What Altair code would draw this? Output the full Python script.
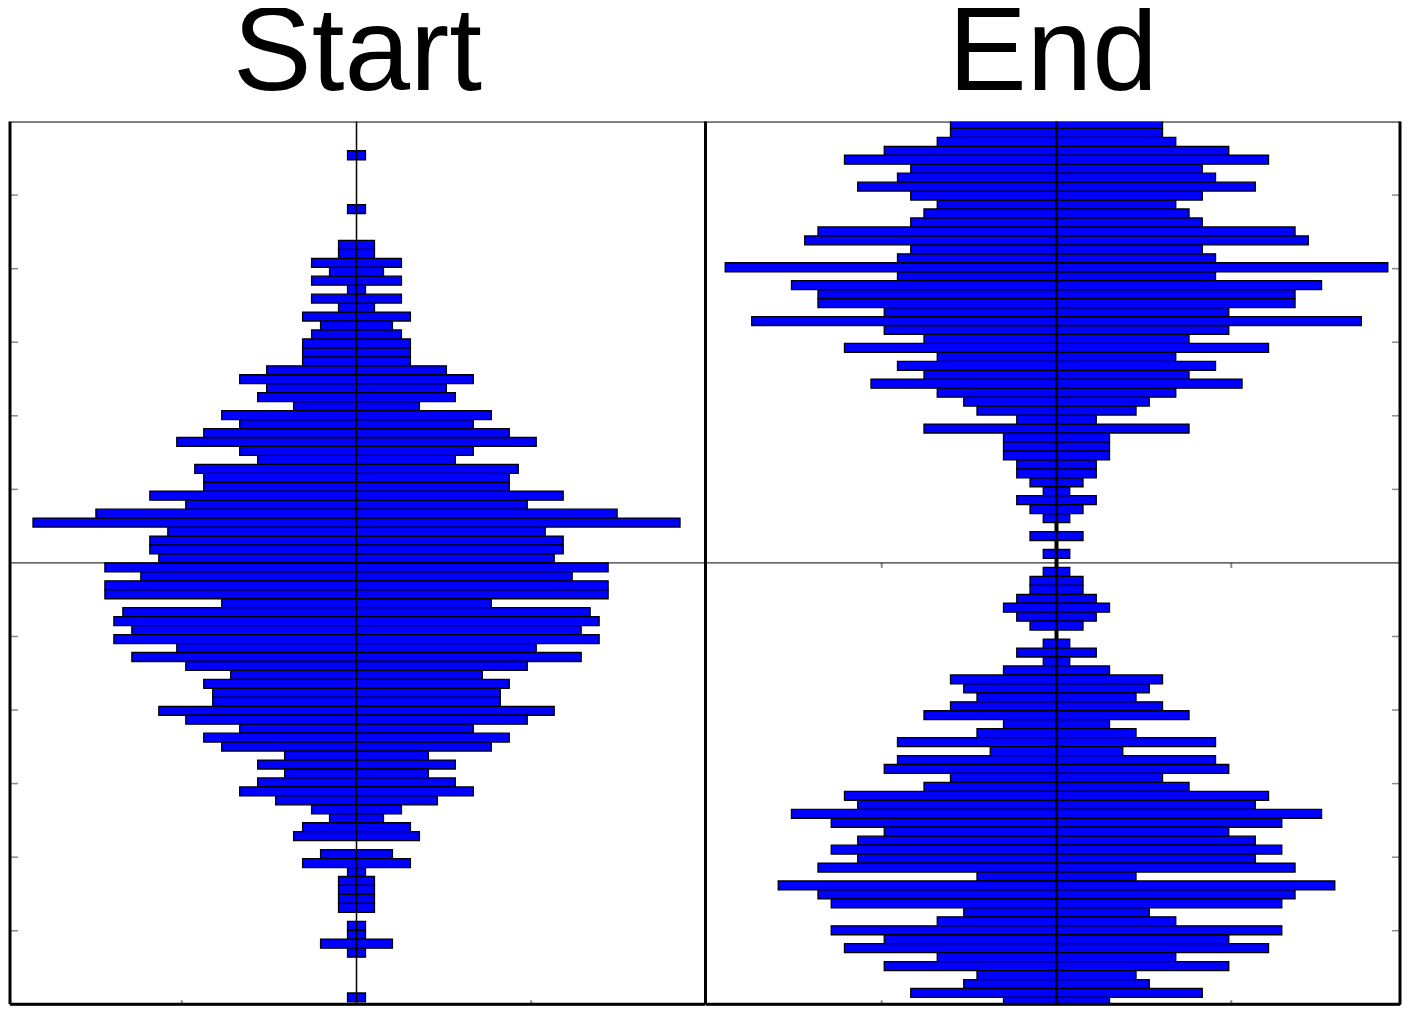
import altair as alt
import pandas as pd

# ---------------- data ----------------
BIN_H = 0.1218                      # bin height in y units
Y_TICKS = [-5, -4, -3, -2, -1, 1, 2, 3, 4, 5]

# Start panel: bins whose lower/upper edge sits on the centre line
start_up = [22, 23, 23, 21, 36, 29, 19, 23, 17, 17, 18, 11, 13, 20, 17, 13, 15, 7,
            11, 10, 13, 10, 6, 6, 6, 5, 4, 6, 2, 5, 1, 5, 3, 5, 2, 2, 0, 0, 0, 1,
            0, 0, 0, 0, 0, 1]
start_down = [28, 24, 28, 28, 15, 26, 27, 25, 27, 20, 25, 19, 14, 17, 16, 16, 22, 19,
              13, 17, 15, 8, 11, 8, 11, 13, 9, 5, 3, 6, 7, 0, 4, 6, 1, 2, 2, 2, 2,
              0, 1, 1, 4, 1, 0, 0, 0, 0, 1]

# End panel: bins centred on the centre line
end_centre = 0
end_up = [1, 0, 2, 0, 1, 2, 3, 1, 2, 3, 3, 4, 4, 4, 10, 3, 6, 7, 9, 14, 10, 12, 9,
          16, 10, 13, 23, 13, 18, 18, 20, 12, 25, 12, 11, 19, 18, 11, 10, 9, 11,
          15, 12, 11, 16, 13, 9, 8, 8]
end_down = [1, 2, 2, 3, 4, 3, 2, 0, 1, 3, 1, 4, 8, 7, 6, 8, 10, 4, 6, 12, 5, 12,
            13, 8, 10, 16, 15, 20, 17, 13, 15, 17, 15, 18, 6, 21, 18, 17, 7, 9, 17,
            13, 16, 9, 13, 6, 7, 11, 4]

START_XDOM = [-38.56, 38.78]
END_XDOM = [-26.45, 25.92]
START_XTICKS = [-19.44, 19.44]
END_XTICKS = [-13.19, 13.19]

W_S, W_E, H = 696, 695, 884

rows_s = []
for i, c in enumerate(start_up):
    rows_s.append({"y0": i * BIN_H, "y1": (i + 1) * BIN_H, "n": c})
for i, c in enumerate(start_down):
    rows_s.append({"y0": -(i + 1) * BIN_H, "y1": -i * BIN_H, "n": c})
rows_e = [{"y0": -0.5 * BIN_H, "y1": 0.5 * BIN_H, "n": end_centre}]
for k, c in enumerate(end_up, start=1):
    rows_e.append({"y0": (k - 0.5) * BIN_H, "y1": (k + 0.5) * BIN_H, "n": c})
for k, c in enumerate(end_down, start=1):
    rows_e.append({"y0": -(k + 0.5) * BIN_H, "y1": -(k - 0.5) * BIN_H, "n": c})

df_s = pd.DataFrame(rows_s)
df_e = pd.DataFrame(rows_e)
for d in (df_s, df_e):
    d["xl"] = -d["n"]
    d["xr"] = d["n"]

GRAY = "#8a8a8a"


def panel(title, df, W, xdom, xticks, tick_side, thick_zero, vline_w):
    xs = alt.Scale(domain=xdom, nice=False, zero=False)
    ys = alt.Scale(domain=[-6, 6], nice=False, zero=False)
    one = pd.DataFrame({"k": [0]})
    ytick_df = pd.DataFrame({"t": Y_TICKS})
    xtick_df = pd.DataFrame({"t": xticks})

    if tick_side == "left":
        yt = alt.Chart(ytick_df).mark_rule(color=GRAY, strokeWidth=1.5).encode(
            y=alt.Y("t:Q", scale=ys, axis=None), x=alt.value(0), x2=alt.value(8))
    else:
        yt = alt.Chart(ytick_df).mark_rule(color=GRAY, strokeWidth=1.5).encode(
            y=alt.Y("t:Q", scale=ys, axis=None), x=alt.value(W - 8), x2=alt.value(W))

    xt_bottom = alt.Chart(xtick_df).mark_rule(color=GRAY, strokeWidth=2).encode(
        x=alt.X("t:Q", scale=xs, axis=None), y=alt.value(H - 4), y2=alt.value(H))
    xt_mid = alt.Chart(xtick_df).mark_rule(color=GRAY, strokeWidth=2).encode(
        x=alt.X("t:Q", scale=xs, axis=None), y=alt.value(H / 2), y2=alt.value(H / 2 + 5))

    bars = alt.Chart(df[df["n"] > 0]).mark_rect(
        clip=True, color="#0000ff", stroke="black", strokeWidth=1.3
    ).encode(
        x=alt.X("xl:Q", scale=xs, axis=None), x2="xr:Q",
        y=alt.Y("y0:Q", scale=ys, axis=None), y2="y1:Q",
    )

    hline = alt.Chart(one).mark_rule(color="black", strokeWidth=1).encode(
        y=alt.YDatum(0, scale=ys, axis=None), x=alt.value(0), x2=alt.value(W))
    vline = alt.Chart(one).mark_rule(color="black", strokeWidth=vline_w).encode(
        x=alt.XDatum(0, scale=xs, axis=None), y=alt.value(0), y2=alt.value(H))

    layers = [yt, xt_bottom, xt_mid, bars, hline, vline]
    if thick_zero:
        zero = alt.Chart(df[df["n"] == 0]).mark_rule(color="black", strokeWidth=4).encode(
            x=alt.XDatum(0, scale=xs, axis=None),
            y=alt.Y("y0:Q", scale=ys, axis=None), y2="y1:Q")
        layers.append(zero)

    left = alt.Chart(one).mark_rule(color="black", strokeWidth=3 if tick_side == "left" else 2).encode(
        x=alt.value(0), y=alt.value(0), y2=alt.value(H))
    right = alt.Chart(one).mark_rule(color="black", strokeWidth=3 if tick_side == "right" else 2).encode(
        x=alt.value(W), y=alt.value(0), y2=alt.value(H))
    bottom = alt.Chart(one).mark_rule(color="black", strokeWidth=3).encode(
        y=alt.value(H), x=alt.value(0), x2=alt.value(W))
    layers += [left, right, bottom]

    return alt.layer(*layers).properties(
        width=W, height=H,
        title=alt.TitleParams(title, fontSize=118, font="Liberation Sans",
                              fontWeight="normal", color="black", anchor="middle",
                              offset=5),
    )


p_start = panel("Start", df_s, W_S, START_XDOM, START_XTICKS, "left", False, 1.5)
p_end = panel("End", df_e, W_E, END_XDOM, END_XTICKS, "right", True, 2.5)

chart = alt.hconcat(p_start, p_end, spacing=1, bounds="flush").properties(
    padding={"left": 0, "top": -13, "right": 0, "bottom": 0}
).configure_view(stroke="black", strokeWidth=1)

chart.save("out.html", embed_options={"renderer": "svg", "actions": False})
